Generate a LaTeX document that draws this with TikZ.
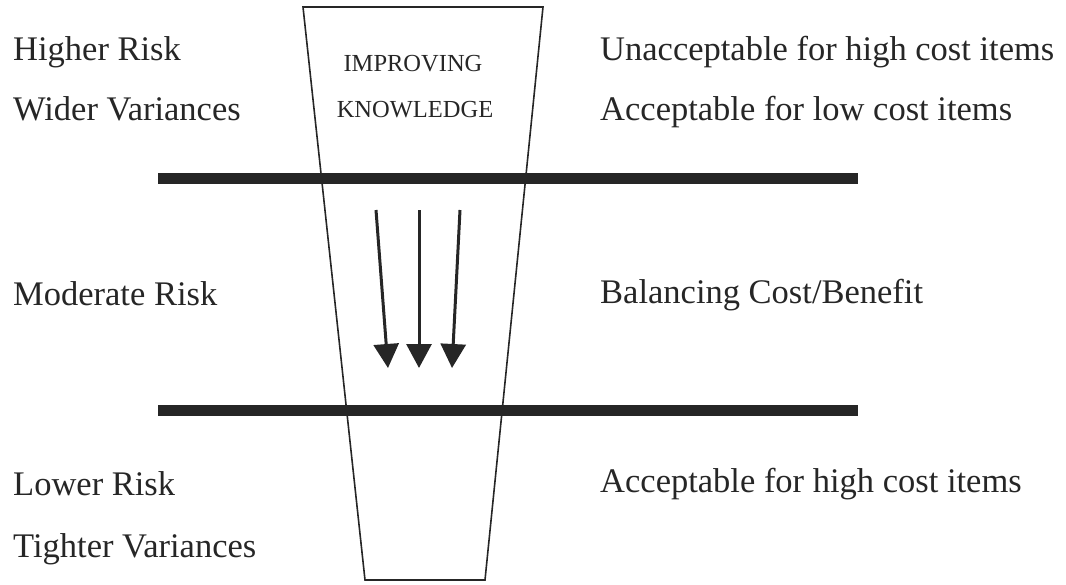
\documentclass[tikz,border=0pt]{standalone}
\usepackage{fontspec}
\setmainfont{Liberation Serif}
\usetikzlibrary{arrows.meta}
\begin{document}
\begin{tikzpicture}[x=1pt,y=-1pt,
  lbl/.style={anchor=base west,inner sep=0pt,font=\fontsize{34.5}{40}\selectfont,text=black!85},
  funneltext/.style={anchor=base,inner sep=0pt,font=\fontsize{24.5}{28}\selectfont,text=black!85},
  bar/.style={line width=11pt,draw=black!85},
  funnel/.style={line width=1.6pt,draw=black!85},
  down/.style={line width=3pt,draw=black!85,-{Triangle[length=24pt,width=25pt]}}]
\useasboundingbox (0,0) rectangle (1066,584);
% funnel
\coordinate (ftl) at (303,7);
\coordinate (ftr) at (543,7);
\coordinate (fbr) at (485,580);
\coordinate (fbl) at (365,580);
\draw[funnel] (ftl) -- (ftr) -- (fbr) -- (fbl) -- cycle;
% bars
\coordinate (b1l) at (158,178);
\coordinate (b1r) at (858,178);
\coordinate (b2l) at (158,410);
\coordinate (b2r) at (858,410);
\draw[bar] (b1l) -- (b1r);
\draw[bar] (b2l) -- (b2r);
% arrows
\coordinate (a1s) at (376,210); \coordinate (a1e) at (388,368);
\coordinate (a2s) at (419,210); \coordinate (a2e) at (419,368);
\coordinate (a3s) at (460,210); \coordinate (a3e) at (452,368);
\draw[down] (a1s) -- (a1e);
\draw[down] (a2s) -- (a2e);
\draw[down] (a3s) -- (a3e);
% funnel text
\node[funneltext] (imp) at (413,71) {IMPROVING};
\node[funneltext] (know) at (415,117) {KNOWLEDGE};
% left labels
\node[lbl] (hr) at (13,60) {Higher Risk};
\node[lbl] (wv) at (13,120) {Wider Variances};
\node[lbl] (mr) at (13,305) {Moderate Risk};
\node[lbl] (lr) at (13,495) {Lower Risk};
\node[lbl] (tv) at (13,557) {Tighter Variances};
% right labels
\node[lbl] (uh) at (600,60) {Unacceptable for high cost items};
\node[lbl] (al) at (600,120) {Acceptable for low cost items};
\node[lbl] (bc) at (600,303) {Balancing Cost/Benefit};
\node[lbl] (ah) at (600,492) {Acceptable for high cost items};
\end{tikzpicture}
\end{document}
